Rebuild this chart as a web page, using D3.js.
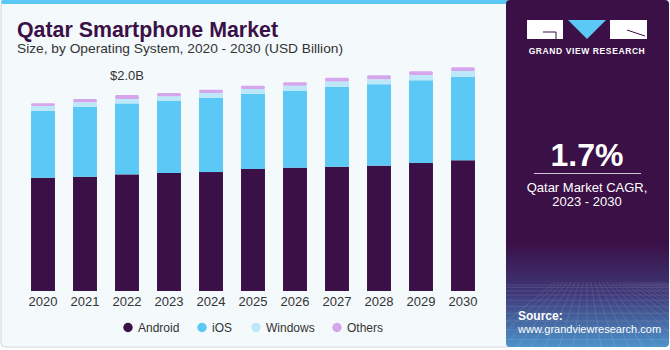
<!DOCTYPE html>
<html>
<head>
<meta charset="utf-8">
<script src="https://cdn.jsdelivr.net/npm/d3@7"></script>
<style>
  body { margin: 0; background: #fff; }
  text { font-family: "Liberation Sans", Arial, sans-serif; }
</style>
</head>
<body>
<div id="chart"></div>
<script>
const width = 670, height = 350;

// data (USD Billion)
const years = ["2020","2021","2022","2023","2024","2025","2026","2027","2028","2029","2030"];
const android = [1.156, 1.166, 1.190, 1.204, 1.214, 1.245, 1.258, 1.268, 1.279, 1.306, 1.334];
const ios     = [0.684, 0.714, 0.724, 0.735, 0.758, 0.768, 0.786, 0.816, 0.831, 0.844, 0.853];
const windows = [0.048, 0.045, 0.044, 0.048, 0.048, 0.048, 0.051, 0.055, 0.051, 0.054, 0.058];
const others  = [0.028, 0.034, 0.041, 0.034, 0.034, 0.034, 0.035, 0.037, 0.041, 0.038, 0.038];
const seriesNames = ["Android", "iOS", "Windows", "Others"];
const colors = ["#3a1046", "#5bc8f5", "#bde8f9", "#d5a6ec"];

const rows = years.map((y, i) => ({
  year: y, Android: android[i], iOS: ios[i], Windows: windows[i], Others: others[i]
}));

const svg = d3.select("#chart").append("svg")
  .attr("width", width)
  .attr("height", height);

const defs = svg.append("defs");
const grad = defs.append("linearGradient")
  .attr("id", "sideGrad").attr("x1", 0).attr("y1", 0).attr("x2", 0).attr("y2", 1);
grad.append("stop").attr("offset", "0%").attr("stop-color", "#3a1046");
grad.append("stop").attr("offset", "70%").attr("stop-color", "#3a1046");
grad.append("stop").attr("offset", "85%").attr("stop-color", "#3e3a7a");
grad.append("stop").attr("offset", "100%").attr("stop-color", "#4d93c9");

// left panel
svg.append("rect")
  .attr("x", 1).attr("y", 1).attr("width", 512).attr("height", 346)
  .attr("rx", 4)
  .attr("fill", "#f4f9fc")
  .attr("stroke", "#d3d6d8");
svg.append("rect")
  .attr("x", 1).attr("y", 0).attr("width", 508).attr("height", 4)
  .attr("rx", 2)
  .attr("fill", "#5bc8f5");

// right panel
svg.append("rect")
  .attr("x", 506).attr("y", 0).attr("width", 163).attr("height", 347)
  .attr("rx", 4)
  .attr("fill", "url(#sideGrad)");

// faint grid in bottom of side panel
const gridG = svg.append("g").attr("opacity", 0.18)
  .attr("stroke", "#ffffff").attr("stroke-width", 0.6);
d3.range(0, 12).forEach(i => {
  gridG.append("line")
    .attr("x1", 506).attr("x2", 669)
    .attr("y1", 285 + i * i * 0.45 + i * 2).attr("y2", 285 + i * i * 0.45 + i * 2);
});
d3.range(-8, 20).forEach(i => {
  gridG.append("line")
    .attr("x1", 587 + i * 4).attr("y1", 282)
    .attr("x2", 587 + i * 14).attr("y2", 347);
});

// title
svg.append("text")
  .attr("x", 17).attr("y", 37)
  .attr("font-size", 22).attr("font-weight", 900)
  .attr("fill", "#3a1046")
  .attr("textLength", 261).attr("lengthAdjust", "spacingAndGlyphs")
  .text("Qatar Smartphone Market");
svg.append("text")
  .attr("x", 17).attr("y", 53)
  .attr("font-size", 13)
  .attr("fill", "#333")
  .attr("textLength", 326).attr("lengthAdjust", "spacingAndGlyphs")
  .text("Size, by Operating System, 2020 - 2030 (USD Billion)");

// scales
const x = d3.scaleBand()
  .domain(years)
  .range([22, 484])
  .paddingInner(0.43)
  .paddingOuter(0.215);

const y = d3.scaleLinear()
  .domain([0, 2])
  .range([291, 95]);

const stack = d3.stack().keys(seriesNames);
const stacked = stack(rows);

const barG = svg.append("g");
stacked.forEach((layer, li) => {
  barG.append("g")
    .attr("fill", colors[li])
    .selectAll("rect")
    .data(layer)
    .join("rect")
    .attr("x", d => x(d.data.year))
    .attr("width", x.bandwidth())
    .attr("y", d => y(d[1]))
    .attr("height", d => y(d[0]) - y(d[1]))
    .attr("rx", li === 3 ? 1.5 : 0);
});

// x axis labels
const xAxis = d3.axisBottom(x).tickSize(0).tickPadding(6);
const xg = svg.append("g")
  .attr("transform", "translate(0,291)")
  .call(xAxis);
xg.select(".domain").remove();
xg.selectAll("text")
  .attr("font-size", 13)
  .attr("fill", "#333")
  .style("font-family", "'Liberation Sans', Arial, sans-serif");

// annotation
const total2022 = android[2] + ios[2] + windows[2] + others[2];
svg.append("text")
  .attr("x", x("2022") + x.bandwidth() / 2)
  .attr("y", 80)
  .attr("text-anchor", "middle")
  .attr("font-size", 13)
  .attr("fill", "#333")
  .text("$" + total2022.toFixed(1) + "B");

// legend
const legendX = [128, 202, 256, 337];
const legend = svg.append("g");
seriesNames.forEach((name, i) => {
  legend.append("circle")
    .attr("cx", legendX[i]).attr("cy", 327.5).attr("r", 4.7)
    .attr("fill", colors[i]);
  legend.append("text")
    .attr("x", legendX[i] + 10).attr("y", 332)
    .attr("font-size", 12)
    .attr("fill", "#333")
    .text(name);
});

// logo
const logo = svg.append("g");
logo.append("rect").attr("x", 527).attr("y", 20).attr("width", 36).attr("height", 19).attr("fill", "#fff");
logo.append("path").attr("d", "M543,32 L556,32 L556,39").attr("stroke", "#3a1046").attr("fill", "none").attr("stroke-width", 1);
logo.append("path").attr("d", "M568,20 L606,20 L587,39 Z").attr("fill", "#5bc8f5");
logo.append("rect").attr("x", 610).attr("y", 20).attr("width", 37).attr("height", 19).attr("fill", "#fff");
logo.append("path").attr("d", "M627,30 L645,36").attr("stroke", "#3a1046").attr("stroke-width", 1);
svg.append("text")
  .attr("x", 587).attr("y", 54)
  .attr("text-anchor", "middle")
  .attr("font-size", 8.5).attr("font-weight", "bold")
  .attr("fill", "#fff")
  .attr("letter-spacing", 0.6)
  .text("GRAND VIEW RESEARCH");

// CAGR block
svg.append("text")
  .attr("x", 587).attr("y", 166)
  .attr("text-anchor", "middle")
  .attr("font-size", 32).attr("font-weight", "bold")
  .attr("fill", "#fff")
  .text("1.7%");
svg.append("line")
  .attr("x1", 534).attr("x2", 641)
  .attr("y1", 173.5).attr("y2", 173.5)
  .attr("stroke", "#cfc4d6").attr("stroke-width", 1);
svg.append("text")
  .attr("x", 587).attr("y", 192)
  .attr("text-anchor", "middle")
  .attr("font-size", 13).attr("fill", "#fff")
  .text("Qatar Market CAGR,");
svg.append("text")
  .attr("x", 587).attr("y", 206)
  .attr("text-anchor", "middle")
  .attr("font-size", 13).attr("fill", "#fff")
  .text("2023 - 2030");

// source
svg.append("text")
  .attr("x", 518).attr("y", 320)
  .attr("font-size", 12).attr("font-weight", "bold")
  .attr("fill", "#fff")
  .text("Source:");
svg.append("text")
  .attr("x", 518).attr("y", 333)
  .attr("font-size", 11)
  .attr("fill", "#fff")
  .text("www.grandviewresearch.com");
</script>
</body>
</html>
